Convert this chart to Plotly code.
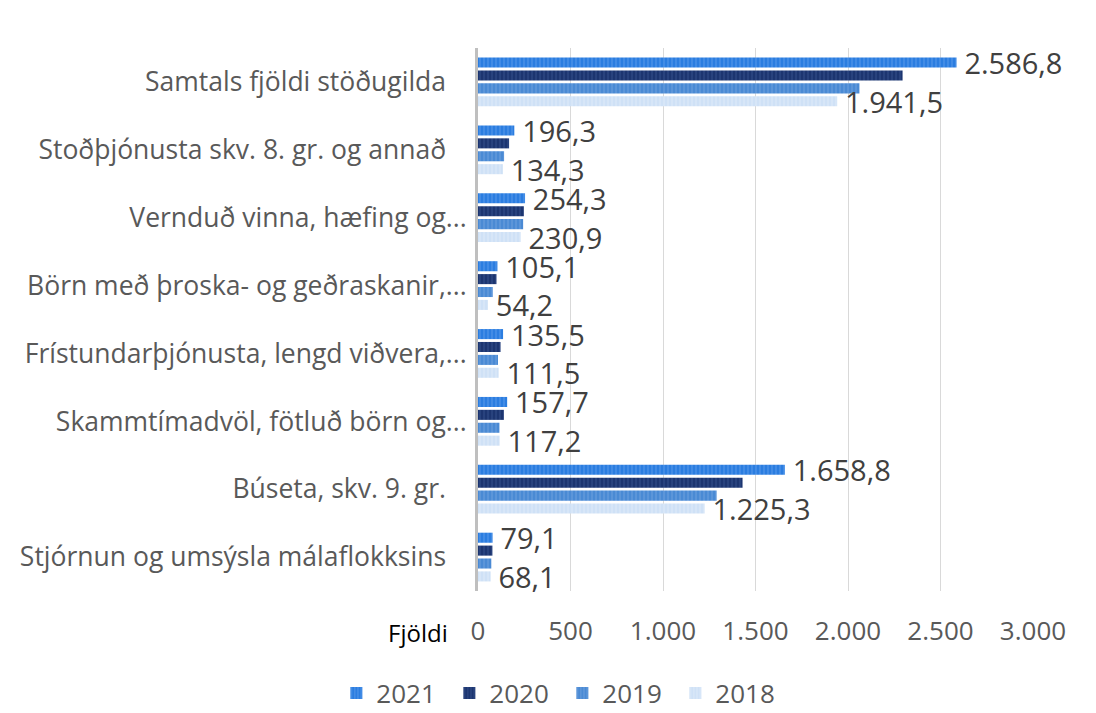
import plotly.graph_objects as go

categories = [
    "Samtals fjöldi stöðugilda",
    "Stoðþjónusta skv. 8. gr. og annað",
    "Vernduð vinna, hæfing og...",
    "Börn með þroska- og geðraskanir,...",
    "Frístundarþjónusta, lengd viðvera,...",
    "Skammtímadvöl, fötluð börn og...",
    "Búseta, skv. 9. gr.",
    "Stjórnun og umsýsla málaflokksins",
]
years = ["2021", "2020", "2019", "2018"]
v2021 = [2586.8, 196.3, 254.3, 105.1, 135.5, 157.7, 1658.8, 79.1]
v2020 = [2295.0, 168.0, 248.0, 100.0, 122.0, 140.0, 1430.0, 78.0]
v2019 = [2062.0, 141.0, 244.0, 80.0, 108.0, 116.0, 1290.0, 72.0]
v2018 = [1941.5, 134.3, 230.9, 54.2, 111.5, 117.2, 1225.3, 68.1]
labels2021 = ["2.586,8", "196,3", "254,3", "105,1", "135,5", "157,7", "1.658,8", "79,1"]
labels2018 = ["1.941,5", "134,3", "230,9", "54,2", "111,5", "117,2", "1.225,3", "68,1"]
xticks = [0, 500, 1000, 1500, 2000, 2500, 3000]
xticklabels = ["0", "500", "1.000", "1.500", "2.000", "2.500", "3.000"]

# tick text: labels without ellipsis sit a bit further left, as in the original
ytick_text = [c if c.endswith("...") else c + "\u00a0\u00a0\u00a0" for c in categories]

series = [v2021, v2020, v2019, v2018]
texts = [labels2021, None, None, labels2018]
colors = ["#2b7de0", "#1c3570", "#4a8ad4", "#cfe1f6"]
fgcolors = ["#6aa6ef", "#3f5a96", "#7cabe3", "#e6f0fb"]

fig = go.Figure()
for name, vals, txt, c, fg in zip(years, series, texts, colors, fgcolors):
    fig.add_trace(go.Bar(
        y=categories, x=vals, name=name, orientation="h",
        marker=dict(color=c, line=dict(width=0),
                    pattern=dict(shape="|", fgcolor=fg, bgcolor=c, size=4, solidity=0.35)),
        text=txt, texttemplate="\u2009%{text}" if txt else None,
        textposition="outside" if txt else "none",
        textfont=dict(size=29, color="#404040", family="Open Sans"),
        constraintext="none", cliponaxis=False,
        hoverinfo="x+y+name",
    ))

fig.update_layout(
    width=1088, height=705,
    barmode="group", bargap=0.24, bargroupgap=0.22,
    plot_bgcolor="white", paper_bgcolor="white",
    margin=dict(l=470, r=63, t=40, b=122, autoexpand=False),
    font=dict(family="Open Sans", size=26, color="#595959"),
    legend=dict(orientation="h", x=0.152, xanchor="center", y=-0.188, yanchor="middle",
                font=dict(size=26, color="#595959"), traceorder="normal",
                itemwidth=30, entrywidth=68),
    showlegend=True,
)
fig.update_xaxes(range=[0, 3000], tickvals=xticks, ticktext=xticklabels,
                 showgrid=True, gridcolor="#d9d9d9", gridwidth=1, zeroline=False,
                 showline=False, ticks="", tickfont=dict(size=26, color="#595959"),
                 ticklabelstandoff=22, automargin=False)
fig.update_yaxes(autorange="reversed", showline=True, linecolor="#bfbfbf", linewidth=3,
                 ticks="", ticklabelstandoff=3, tickfont=dict(size=26.5, color="#595959"),
                 tickvals=categories, ticktext=ytick_text, automargin=False)
fig.add_annotation(text="Fjöldi", xref="paper", yref="paper", x=-0.05, y=0,
                   xanchor="right", yanchor="middle", yshift=-41, showarrow=False,
                   font=dict(size=24, color="#000000", family="Open Sans"))
fig.write_html("out.html")
